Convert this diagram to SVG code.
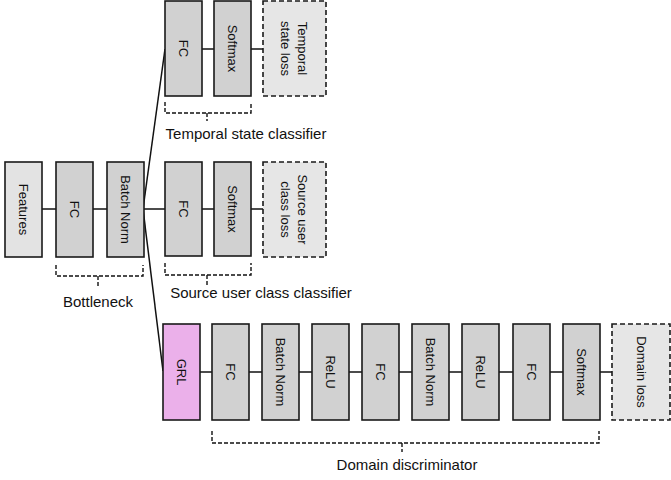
<svg xmlns="http://www.w3.org/2000/svg" width="671" height="480" viewBox="0 0 671 480">
<style>
.b{fill:#d1d1d1;stroke:#1a1a1a;stroke-width:1.6}
.f{fill:#e3e3e3;stroke:#1a1a1a;stroke-width:1.6}
.g{fill:#ebb0ea;stroke:#1a1a1a;stroke-width:1.6}
.l{fill:#e6e6e6;stroke:#1a1a1a;stroke-width:1.6;stroke-dasharray:5 3}
.c{stroke:#111;stroke-width:1.5;fill:none}
.br{stroke:#111;stroke-width:1.4;fill:none;stroke-dasharray:4 2}
text{font-family:"Liberation Sans",Arial,sans-serif;fill:#111}
.t{font-size:13px;text-anchor:middle;dominant-baseline:central}
.lab{font-size:15px;text-anchor:middle}
</style>
<rect width="671" height="480" fill="#fff"/>
<g id="connectors">
<line class="c" x1="42" y1="209" x2="56" y2="209"/>
<line class="c" x1="93" y1="209" x2="107" y2="209"/>
<line class="c" x1="144" y1="209" x2="165" y2="209"/>
<line class="c" x1="143" y1="209" x2="165" y2="49"/>
<line class="c" x1="143" y1="209" x2="163" y2="371"/>
<line class="c" x1="202" y1="49" x2="214" y2="49"/>
<line class="c" x1="251" y1="49" x2="263" y2="49"/>
<line class="c" x1="202" y1="209" x2="214" y2="209"/>
<line class="c" x1="251" y1="209" x2="263" y2="209"/>
<line class="c" x1="200" y1="372" x2="212" y2="372"/>
<line class="c" x1="249" y1="372" x2="262" y2="372"/>
<line class="c" x1="299" y1="372" x2="312" y2="372"/>
<line class="c" x1="349" y1="372" x2="362" y2="372"/>
<line class="c" x1="399" y1="372" x2="412" y2="372"/>
<line class="c" x1="449" y1="372" x2="462" y2="372"/>
<line class="c" x1="499" y1="372" x2="513" y2="372"/>
<line class="c" x1="550" y1="372" x2="563" y2="372"/>
<line class="c" x1="600" y1="372" x2="612" y2="372"/>
</g>
<g id="features"><rect class="f" x="5" y="162" width="37" height="95"/><text class="t" transform="rotate(90 23.5 209.5)" x="23.5" y="209.5">Features</text></g>
<g id="bn_fc"><rect class="b" x="56" y="162" width="37" height="95"/><text class="t" transform="rotate(90 74.5 209.5)" x="74.5" y="209.5">FC</text></g>
<g id="bn_bn"><rect class="b" x="107" y="162" width="37" height="95"/><text class="t" transform="rotate(90 125.5 209.5)" x="125.5" y="209.5">Batch Norm</text></g>
<g id="bottleneck"><path class="br" d="M56 265 V276 H143 V265 M98 276 V287"/><text class="lab" x="98" y="307">Bottleneck</text></g>

<g id="t_fc"><rect class="b" x="165" y="1" width="37" height="95"/><text class="t" transform="rotate(90 183.5 48.5)" x="183.5" y="48.5">FC</text></g>
<g id="t_sm"><rect class="b" x="214" y="1" width="37" height="95"/><text class="t" transform="rotate(90 232.5 48.5)" x="232.5" y="48.5">Softmax</text></g>
<g id="t_loss"><rect class="l" x="263" y="1" width="63" height="95"/><text class="t" transform="rotate(90 294.5 48.5)" x="294.5" y="48.5"><tspan x="294.5" dy="-8">Temporal</tspan><tspan x="294.5" dy="17">state loss</tspan></text></g>
<g id="temporal_classifier"><path class="br" d="M165 102 V113 H251 V102 M207 113 V121"/><text class="lab" x="246" y="139">Temporal  state classifier</text></g>

<g id="s_fc"><rect class="b" x="165" y="162" width="37" height="94"/><text class="t" transform="rotate(90 183.5 209)" x="183.5" y="209">FC</text></g>
<g id="s_sm"><rect class="b" x="214" y="162" width="37" height="94"/><text class="t" transform="rotate(90 232.5 209)" x="232.5" y="209">Softmax</text></g>
<g id="s_loss"><rect class="l" x="263" y="162" width="63" height="95"/><text class="t" transform="rotate(90 294.5 209.5)" x="294.5" y="209.5"><tspan x="294.5" dy="-8">Source user</tspan><tspan x="294.5" dy="17">class loss</tspan></text></g>
<g id="source_classifier"><path class="br" d="M165 263 V275 H251 V263 M207 275 V285"/><text class="lab" x="261" y="298">Source user class classifier</text></g>

<g id="grl"><rect class="g" x="163" y="324" width="37" height="96"/><text class="t" transform="rotate(90 181.5 372)" x="181.5" y="372">GRL</text></g>
<g id="d_fc1"><rect class="b" x="212" y="324" width="37" height="96"/><text class="t" transform="rotate(90 230.5 372)" x="230.5" y="372">FC</text></g>
<g id="d_bn1"><rect class="b" x="262" y="324" width="37" height="96"/><text class="t" transform="rotate(90 280.5 372)" x="280.5" y="372">Batch Norm</text></g>
<g id="d_relu1"><rect class="b" x="312" y="324" width="37" height="96"/><text class="t" transform="rotate(90 330.5 372)" x="330.5" y="372">ReLU</text></g>
<g id="d_fc2"><rect class="b" x="362" y="324" width="37" height="96"/><text class="t" transform="rotate(90 380.5 372)" x="380.5" y="372">FC</text></g>
<g id="d_bn2"><rect class="b" x="412" y="324" width="37" height="96"/><text class="t" transform="rotate(90 430.5 372)" x="430.5" y="372">Batch Norm</text></g>
<g id="d_relu2"><rect class="b" x="462" y="324" width="37" height="96"/><text class="t" transform="rotate(90 480.5 372)" x="480.5" y="372">ReLU</text></g>
<g id="d_fc3"><rect class="b" x="513" y="324" width="37" height="96"/><text class="t" transform="rotate(90 531.5 372)" x="531.5" y="372">FC</text></g>
<g id="d_sm"><rect class="b" x="563" y="324" width="37" height="96"/><text class="t" transform="rotate(90 581.5 372)" x="581.5" y="372">Softmax</text></g>
<g id="d_loss"><rect class="l" x="612" y="324" width="58" height="96"/><text class="t" transform="rotate(90 641 372)" x="641" y="372">Domain loss</text></g>
<g id="domain_discriminator"><path class="br" d="M212 431 V443 H599 V431 M402 443 V452"/><text class="lab" x="407" y="470">Domain discriminator</text></g>
</svg>
